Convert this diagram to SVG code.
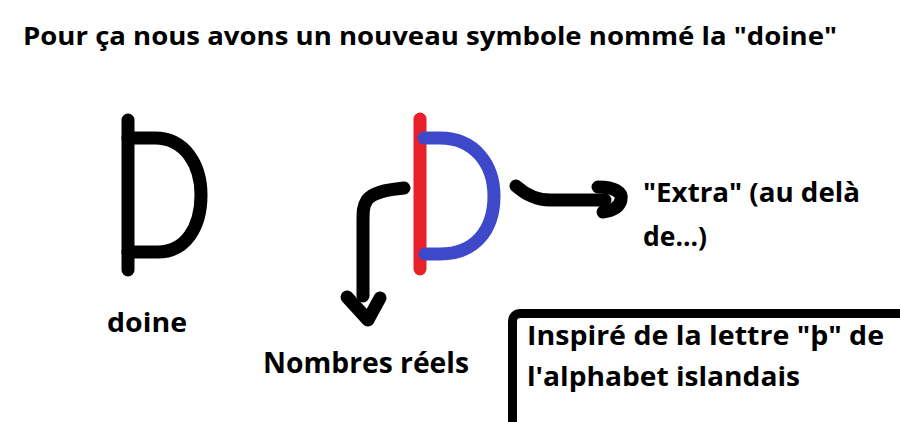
<svg xmlns="http://www.w3.org/2000/svg" width="900" height="422" viewBox="0 0 900 422">
<style>
text{font-family:"Open Sans","Noto Sans","Liberation Sans",sans-serif;font-weight:bold;fill:#000}
.s{fill:none;stroke-linecap:round;stroke-linejoin:round;stroke-width:13}
</style>
<rect width="900" height="422" fill="#fff"/>
<text x="23" y="45" font-size="25" textLength="814" lengthAdjust="spacingAndGlyphs">Pour ça nous avons un nouveau symbole nommé la "doine"</text>
<g id="doine">
<path class="s" stroke="#000" d="M128 120 V270"/>
<path class="s" stroke="#000" d="M128 138 H155 C185 138 201 165 201 195 C201 228 185 252 158 252 H128"/>
<text x="107" y="332" font-size="27" textLength="80" lengthAdjust="spacingAndGlyphs">doine</text>
</g>
<g id="doine-couleur">
<path class="s" stroke="#e8202a" d="M420 119 V269"/>
<path class="s" stroke="#3d49c9" d="M424 138 H440 C475 138 494 165 494 196 C494 230 475 254 440 254 H425"/>
</g>
<g id="connecteurs">
<path class="s" stroke="#000" d="M404 188 C384 190 372 193 367 200 C363 206 363 212 363 222 L363 296"/>
<path class="s" stroke="#000" d="M347 297 L368 320 L380 298"/>
<path class="s" stroke="#000" stroke-width="14" d="M516 186 C525 194 535 200 550 200 L605 200"/>
<path class="s" stroke="#000" stroke-width="14" d="M598 187 C614 187 623 192 621 200 C619 208 611 211 603 212"/>
</g>
<g id="reels">
<text x="263" y="373" font-size="28" textLength="206" lengthAdjust="spacingAndGlyphs">Nombres réels</text>
</g>
<g id="extra">
<text x="643" y="202" font-size="26" textLength="217" lengthAdjust="spacingAndGlyphs">"Extra" (au delà</text>
<text x="643" y="246" font-size="26" textLength="64" lengthAdjust="spacingAndGlyphs">de...)</text>
</g>
<g id="encadre">
<path d="M512.5 430 V322 Q512.5 313.5 521 313.5 H905" fill="none" stroke="#000" stroke-width="9"/>
<text x="527" y="345" font-size="27" textLength="357" lengthAdjust="spacingAndGlyphs">Inspiré de la lettre "þ" de</text>
<text x="527" y="386" font-size="27" textLength="273" lengthAdjust="spacingAndGlyphs">l'alphabet islandais</text>
</g>
</svg>
